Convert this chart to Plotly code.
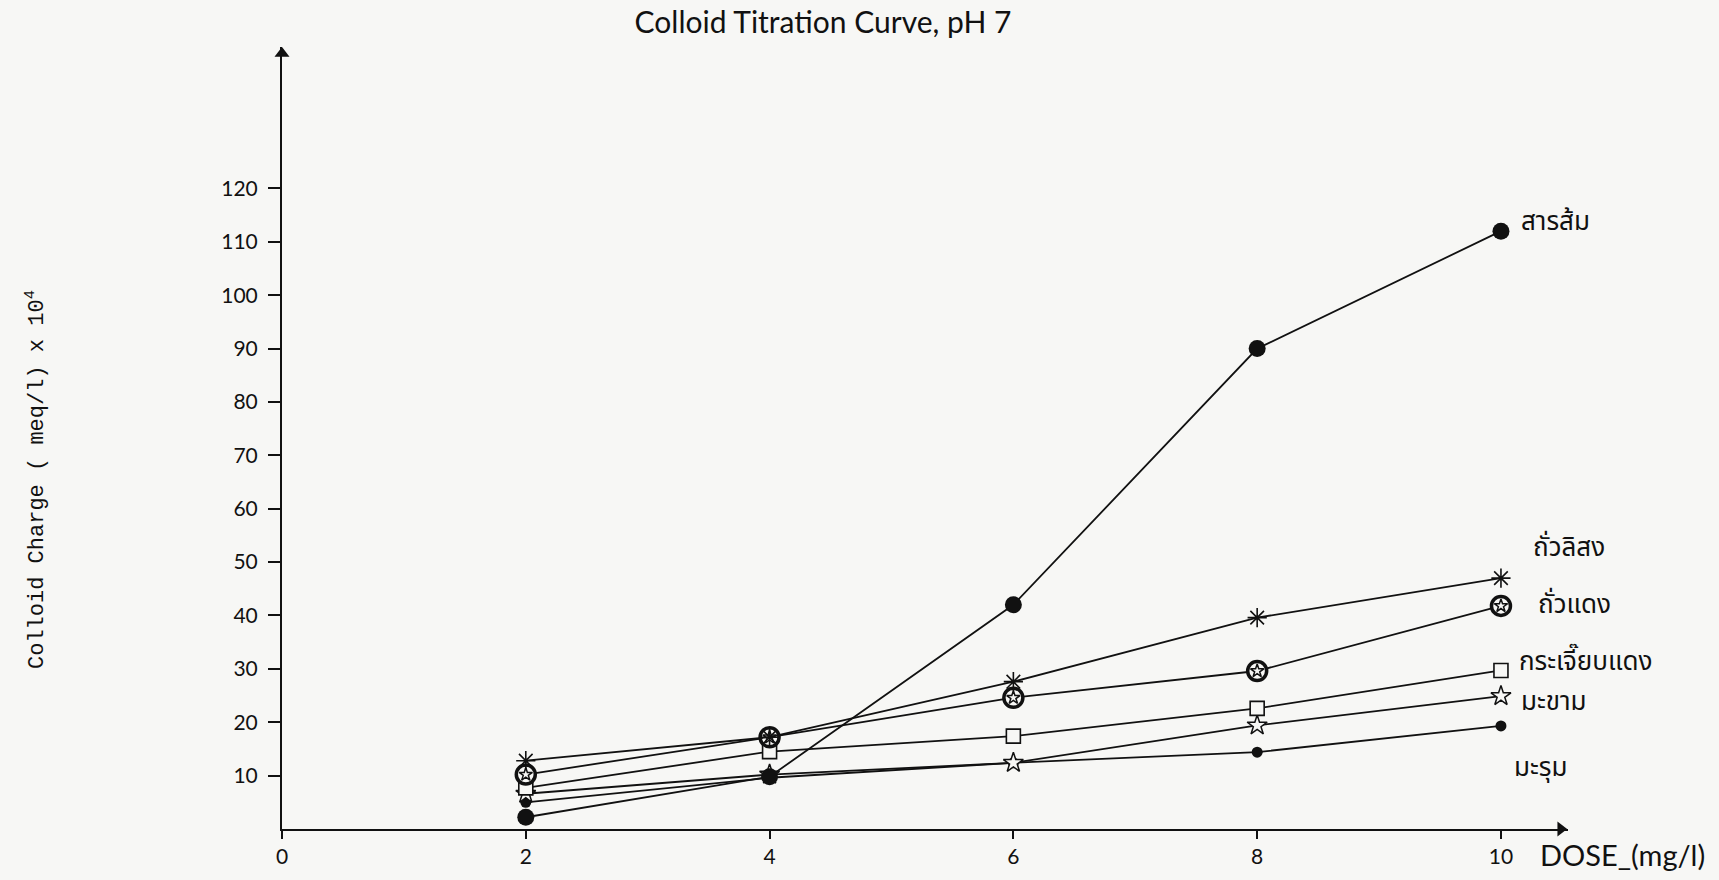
import plotly.graph_objects as go

dose = [2, 4, 6, 8, 10]

alum = [2.2, 9.8, 42, 90, 112]          # สารส้ม
peanut = [12.8, 17.2, 27.6, 39.6, 47]    # ถั่วลิสง
redbean = [10.2, 17.2, 24.6, 29.6, 41.8]  # ถั่วแดง
roselle = [7.7, 14.5, 17.4, 22.6, 29.7]  # กระเจี๊ยบแดง
tamarind = [6.6, 10.2, 12.4, 19.4, 24.9]  # มะขาม
moringa = [5.0, 9.6, 12.4, 14.4, 19.3]   # มะรุม

names = ["สารส้ม", "ถั่วลิสง", "ถั่วแดง", "กระเจี๊ยบแดง", "มะขาม", "มะรุม"]
label_y = [113.8, 52.7, 42.0, 31.2, 23.8, 11.4]
label_x = [10.15, 10.25, 10.29, 10.13, 10.15, 10.09]

y_ticks = [10, 20, 30, 40, 50, 60, 70, 80, 90, 100, 110, 120]
x_ticks = [0, 2, 4, 6, 8, 10]

ink = "#111111"
paper = "#f7f7f5"
sans = "Lato, Open Sans, sans-serif"
thai = "Noto Sans Thai, Loma, Garuda, Tlwg Typo, DejaVu Sans, sans-serif"
mono = "Liberation Mono, Courier New, monospace"

xmax = 10.55
ymax = 146.5

fig = go.Figure()

def add_series(y, symbol, size, fill, lw):
    fig.add_trace(go.Scatter(
        x=dose, y=y, mode="lines+markers",
        line=dict(color=ink, width=1.8),
        marker=dict(symbol=symbol, size=size, color=fill,
                    line=dict(color=ink, width=lw)),
        showlegend=False, cliponaxis=False, hoverinfo="skip"))

add_series(moringa, "circle", 11, ink, 0)
add_series(tamarind, "star", 15, paper, 1.5)
add_series(roselle, "square", 14, paper, 1.6)
add_series(redbean, "circle", 19, paper, 3.5)
fig.add_trace(go.Scatter(
    x=dose, y=redbean, mode="markers",
    marker=dict(symbol="star", size=10, color=paper, line=dict(color=ink, width=1.5)),
    showlegend=False, cliponaxis=False, hoverinfo="skip"))
add_series(peanut, "asterisk-open", 16, ink, 1.6)
add_series(alum, "circle", 17, ink, 0)

# axis arrowheads
fig.add_trace(go.Scatter(
    x=[xmax - 0.06], y=[0], mode="markers",
    marker=dict(symbol="triangle-right", size=13, color=ink),
    showlegend=False, cliponaxis=False, hoverinfo="skip"))
fig.add_trace(go.Scatter(
    x=[0], y=[ymax - 1.2], mode="markers",
    marker=dict(symbol="triangle-up", size=13, color=ink),
    showlegend=False, cliponaxis=False, hoverinfo="skip"))

for nx, ny, nm in zip(label_x, label_y, names):
    fig.add_annotation(x=nx, y=ny, xref="x", yref="y", text=nm, showarrow=False,
                       xanchor="left", yanchor="middle",
                       font=dict(family=thai, size=26, color=ink))

fig.add_annotation(x=(1538 - 282) / 1286, y=(838 - 864) / 791, xref="paper", yref="paper",
                   text="DOSE_(mg/l)", showarrow=False, xanchor="left", yanchor="middle",
                   font=dict(family=sans, size=29, color=ink))

fig.add_annotation(x=(35 - 282) / 1286, y=(838 - 485) / 791, xref="paper", yref="paper",
                   text="Colloid Charge ( meq/l) x 10<sup>4</sup>", textangle=-90,
                   showarrow=False, xanchor="center", yanchor="middle",
                   font=dict(family=mono, size=22, color=ink))

fig.update_layout(
    width=1719, height=880, autosize=False,
    margin=dict(l=282, r=151, t=47, b=42),
    paper_bgcolor=paper, plot_bgcolor=paper,
    title=dict(text="Colloid Titration Curve, pH 7", x=823 / 1719, xanchor="center",
               y=1 - 22 / 880, yanchor="middle",
               font=dict(family=sans, size=30, color=ink)),
    xaxis=dict(range=[0, xmax], showgrid=False, zeroline=False,
               showline=True, linecolor=ink, linewidth=2,
               ticks="outside", ticklen=8, tickwidth=1.5, tickcolor=ink,
               tickvals=x_ticks, ticktext=[str(v) for v in x_ticks],
               tickfont=dict(family=sans, size=21, color=ink)),
    yaxis=dict(range=[0, ymax], showgrid=False, zeroline=False,
               showline=True, linecolor=ink, linewidth=2,
               ticks="outside", ticklen=12, tickwidth=1.5, tickcolor=ink,
               tickvals=y_ticks, ticktext=[str(v) for v in y_ticks],
               ticklabelstandoff=6,
               tickfont=dict(family=sans, size=21, color=ink)),
)

fig.write_html("out.html")
